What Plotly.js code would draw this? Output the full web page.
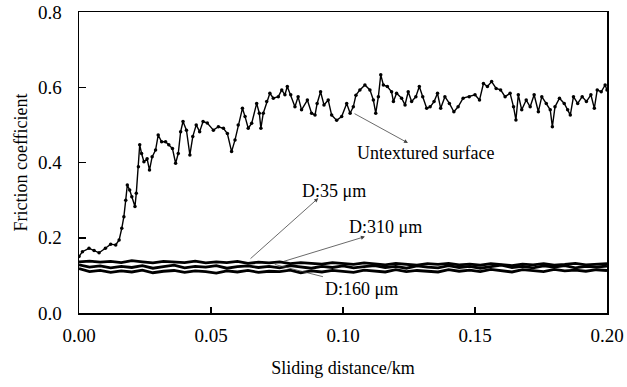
<!DOCTYPE html>
<html>
<head>
<meta charset="utf-8">
<script src="https://cdn.plot.ly/plotly-3.0.1.min.js"></script>
<style>html,body{margin:0;padding:0;background:#fff;}#chart{width:627px;height:387px;}</style>
</head>
<body>
<div id="chart"></div>
<script>
// Untextured surface
const untexX = [0.0000,0.0013,0.0038,0.0057,0.0076,0.0100,0.0120,0.0139,0.0152,0.0162,0.0170,0.0177,0.0183,0.0192,0.0200,0.0212,0.0217,0.0225,0.0230,0.0237,0.0246,0.0258,0.0267,0.0277,0.0290,0.0300,0.0313,0.0328,0.0340,0.0354,0.0366,0.0376,0.0385,0.0394,0.0407,0.0420,0.0431,0.0444,0.0457,0.0470,0.0486,0.0509,0.0528,0.0547,0.0562,0.0578,0.0591,0.0603,0.0619,0.0629,0.0641,0.0654,0.0673,0.0683,0.0689,0.0698,0.0711,0.0723,0.0736,0.0755,0.0768,0.0780,0.0789,0.0802,0.0818,0.0830,0.0843,0.0865,0.0881,0.0894,0.0902,0.0915,0.0928,0.0944,0.0957,0.0976,0.0995,0.1014,0.1027,0.1039,0.1049,0.1064,0.1083,0.1102,0.1115,0.1124,0.1134,0.1143,0.1153,0.1168,0.1184,0.1191,0.1203,0.1222,0.1235,0.1247,0.1260,0.1276,0.1289,0.1302,0.1317,0.1330,0.1345,0.1358,0.1370,0.1386,0.1403,0.1420,0.1436,0.1455,0.1478,0.1500,0.1517,0.1532,0.1547,0.1563,0.1580,0.1597,0.1614,0.1633,0.1646,0.1655,0.1664,0.1677,0.1694,0.1709,0.1724,0.1740,0.1753,0.1770,0.1785,0.1793,0.1803,0.1820,0.1838,0.1851,0.1861,0.1873,0.1889,0.1906,0.1922,0.1939,0.1952,0.1963,0.1978,0.1993,0.2000];
const untexY = [0.150,0.163,0.172,0.166,0.160,0.172,0.183,0.181,0.194,0.225,0.256,0.300,0.340,0.327,0.309,0.283,0.318,0.389,0.447,0.424,0.402,0.410,0.380,0.415,0.433,0.473,0.455,0.455,0.447,0.437,0.398,0.424,0.482,0.509,0.486,0.420,0.469,0.500,0.482,0.509,0.505,0.486,0.495,0.491,0.477,0.429,0.460,0.500,0.544,0.522,0.491,0.504,0.557,0.531,0.491,0.531,0.562,0.584,0.571,0.575,0.593,0.580,0.602,0.580,0.548,0.575,0.540,0.566,0.531,0.526,0.557,0.588,0.553,0.566,0.526,0.512,0.522,0.557,0.531,0.548,0.579,0.593,0.606,0.593,0.566,0.531,0.575,0.633,0.606,0.602,0.588,0.562,0.584,0.571,0.553,0.588,0.562,0.575,0.602,0.575,0.544,0.548,0.562,0.584,0.544,0.575,0.557,0.535,0.548,0.571,0.575,0.580,0.566,0.610,0.602,0.615,0.597,0.593,0.575,0.584,0.548,0.513,0.580,0.540,0.566,0.548,0.580,0.535,0.575,0.557,0.540,0.495,0.548,0.571,0.557,0.540,0.526,0.575,0.557,0.575,0.562,0.580,0.544,0.593,0.588,0.606,0.593];

// Textured surfaces (sample positions, km)
const texX = [0.000,0.004,0.008,0.012,0.016,0.020,0.024,0.028,0.032,0.036,0.040,0.044,0.048,0.052,0.056,0.060,0.064,0.068,0.072,0.076,0.080,0.084,0.088,0.092,0.096,0.100,0.104,0.108,0.112,0.116,0.120,0.124,0.128,0.132,0.136,0.140,0.144,0.148,0.152,0.156,0.160,0.164,0.168,0.172,0.176,0.180,0.184,0.188,0.192,0.196,0.200];
const d35Y = [0.136,0.138,0.135,0.137,0.134,0.139,0.136,0.133,0.137,0.135,0.134,0.138,0.133,0.136,0.134,0.137,0.132,0.135,0.133,0.136,0.131,0.134,0.133,0.130,0.134,0.132,0.129,0.133,0.131,0.128,0.132,0.130,0.127,0.131,0.129,0.132,0.128,0.130,0.127,0.131,0.129,0.126,0.130,0.128,0.131,0.127,0.129,0.132,0.128,0.130,0.131];
const d310Y = [0.128,0.122,0.125,0.120,0.124,0.121,0.126,0.119,0.123,0.127,0.120,0.124,0.122,0.126,0.119,0.123,0.125,0.121,0.124,0.120,0.126,0.122,0.119,0.124,0.121,0.125,0.120,0.123,0.126,0.121,0.124,0.119,0.125,0.122,0.120,0.126,0.121,0.124,0.119,0.123,0.127,0.121,0.124,0.120,0.125,0.122,0.126,0.120,0.124,0.122,0.125];
const d160Y = [0.118,0.110,0.113,0.108,0.112,0.109,0.114,0.107,0.111,0.113,0.108,0.112,0.110,0.106,0.112,0.109,0.113,0.108,0.111,0.110,0.114,0.107,0.112,0.109,0.113,0.110,0.108,0.114,0.111,0.109,0.115,0.110,0.113,0.112,0.109,0.115,0.111,0.114,0.110,0.116,0.112,0.109,0.115,0.113,0.110,0.116,0.112,0.114,0.111,0.115,0.113];

const xTicks = [0, 0.05, 0.10, 0.15, 0.20];
const xTickText = ['0.00','0.05','0.10','0.15','0.20'];
const yTicks = [0, 0.2, 0.4, 0.6, 0.8];
const yTickText = ['0.0','0.2','0.4','0.6','0.8'];

const serif = '"Liberation Serif", "Times New Roman", Times, serif';

const lowTrace = (y) => ({
  x: texX, y: y, type: 'scatter', mode: 'lines',
  line: {color: '#000', width: 2.8}, hoverinfo: 'skip'
});

const data = [
  lowTrace(d35Y), lowTrace(d310Y), lowTrace(d160Y),
  {x: untexX, y: untexY, type: 'scatter', mode: 'lines+markers',
   line: {color: '#000', width: 1.4}, marker: {color: '#000', size: 3.5}, hoverinfo: 'skip'}
];

const arrow = (hx, hy, tx, ty, head) => ({
  x: hx, y: hy, ax: tx, ay: ty, xref: 'x', yref: 'y', axref: 'x', ayref: 'y',
  text: '', showarrow: true, arrowhead: head, arrowsize: 1, arrowwidth: 0.8,
  arrowcolor: '#444', standoff: 0, startstandoff: 0
});
const label = (x, y, t) => ({
  x: x, y: y, xref: 'x', yref: 'y', text: t, showarrow: false,
  xanchor: 'left', yanchor: 'middle', font: {family: serif, size: 18, color: '#000'}
});

const layout = {
  width: 627, height: 387,
  margin: {l: 79, r: 20, t: 12, b: 74},
  paper_bgcolor: '#fff', plot_bgcolor: '#fff',
  showlegend: false,
  xaxis: {
    range: [0, 0.2], tickvals: xTicks, ticktext: xTickText,
    ticks: 'inside', ticklen: 6, tickwidth: 1.5, tickcolor: '#000',
    showline: true, linecolor: '#000', linewidth: 1.5, mirror: true,
    showgrid: false, zeroline: false, ticklabelstandoff: 5,
    tickfont: {family: serif, size: 19, color: '#000'},
    title: {text: 'Sliding distance/km', font: {family: serif, size: 18, color: '#000'}, standoff: 16}
  },
  yaxis: {
    range: [0, 0.8], tickvals: yTicks, ticktext: yTickText,
    ticks: 'inside', ticklen: 7, tickwidth: 1.5, tickcolor: '#000',
    showline: true, linecolor: '#000', linewidth: 1.5, mirror: true,
    showgrid: false, zeroline: false, ticklabelstandoff: 12,
    tickfont: {family: serif, size: 19, color: '#000'},
    title: {text: 'Friction coefficient', font: {family: serif, size: 18, color: '#000'}, standoff: 5}
  },
  annotations: [
    arrow(0.1246, 0.452, 0.1038, 0.532, 2),
    label(0.1045, 0.425, 'Untextured surface'),
    arrow(0.0906, 0.305, 0.0644, 0.141, 2),
    label(0.0837, 0.325, 'D:35 μm'),
    arrow(0.1083, 0.203, 0.077, 0.136, 2),
    label(0.1015, 0.228, 'D:310 μm'),
    arrow(0.0924, 0.0965, 0.0736, 0.130, 0),
    label(0.0925, 0.063, 'D:160 μm')
  ]
};

Plotly.newPlot('chart', data, layout, {staticPlot: true, displayModeBar: false});
</script>
</body>
</html>
